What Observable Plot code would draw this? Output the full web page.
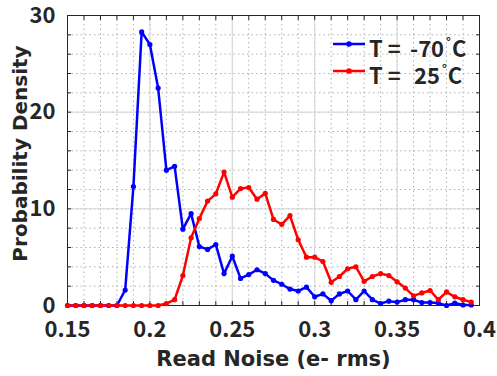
<!DOCTYPE html>
<html>
<head>
<meta charset="utf-8">
<script src="https://cdn.jsdelivr.net/npm/d3@7"></script>
<script src="https://cdn.jsdelivr.net/npm/@observablehq/plot@0.6"></script>
<style>
  html, body { margin: 0; padding: 0; background: #fff; }
  #wrap { position: relative; width: 497px; height: 376px; }
  #legend { position: absolute; left: 0; top: 0; pointer-events: none; }
</style>
</head>
<body>
<div id="wrap"></div>
<script>
const readNoise = [0.150,0.155,0.160,0.165,0.170,0.175,0.180,0.185,0.190,0.195,
  0.200,0.205,0.210,0.215,0.220,0.225,0.230,0.235,0.240,0.245,
  0.250,0.255,0.260,0.265,0.270,0.275,0.280,0.285,0.290,0.295,
  0.300,0.305,0.310,0.315,0.320,0.325,0.330,0.335,0.340,0.345,
  0.350,0.355,0.360,0.365,0.370,0.375,0.380,0.385,0.390,0.395];
const densityMinus70 = [0,0,0,0,0,0,0,1.6,12.3,28.3,
  27.0,22.5,14.0,14.4,7.9,9.5,6.1,5.8,6.3,3.3,
  5.1,2.8,3.2,3.7,3.3,2.6,2.2,1.7,1.5,1.9,
  0.9,1.2,0.5,1.2,1.5,0.6,1.5,0.6,0.2,0.45,
  0.35,0.6,0.6,0.3,0.3,0.25,0.0,0.25,0.05,0.05];
const density25 = [0,0,0,0,0,0,0,0,0,0,
  0,0,0.2,0.6,3.1,7.0,9.0,10.8,11.55,13.8,
  11.2,12.1,12.2,11.0,11.6,8.9,8.4,9.3,6.8,5.0,
  5.0,4.55,2.4,3.0,3.8,4.0,2.5,3.0,3.3,3.1,
  2.45,1.8,1.0,1.3,1.55,0.6,1.4,0.9,0.6,0.35];
const seriesNames = ["T = -70", "T =  25"];
const seriesColors = ["#0000ff", "#ff0000"];
const xTicks = [0.15, 0.2, 0.25, 0.3, 0.35, 0.4];
const xMinor = [0.15,0.16,0.17,0.18,0.19,0.2,0.21,0.22,0.23,0.24,0.25,0.26,0.27,0.28,0.29,0.3,0.31,0.32,0.33,0.34,0.35,0.36,0.37,0.38,0.39,0.4];
const yTicks = [0, 10, 20, 30];
const yMinor = [0,2,4,6,8,10,12,14,16,18,20,22,24,26,28,30];
const xLabel = "Read Noise (e- rms)";
const yLabel = "Probability Density";

const rows = [];
readNoise.forEach((x, i) => rows.push({x, y: densityMinus70[i], s: seriesNames[0]}));
readNoise.forEach((x, i) => rows.push({x, y: density25[i], s: seriesNames[1]}));

const textColor = "#262626";
const tickFont = '"Noto Sans CJK JP", "Noto Sans", sans-serif';
const labelFont = '"DejaVu Sans", sans-serif';
const blank = () => "";

const chart = Plot.plot({
  width: 497,
  height: 376,
  marginLeft: 67,
  marginRight: 18,
  marginTop: 15,
  marginBottom: 71,
  style: {fontFamily: tickFont, fontWeight: "bold", color: textColor, background: "#fff"},
  x: {domain: [0.15, 0.4]},
  y: {domain: [0, 30]},
  color: {domain: seriesNames, range: seriesColors},
  marks: [
    Plot.gridX(xMinor, {stroke: "#b0b0b0", strokeOpacity: 1, strokeDasharray: "1.5,3"}),
    Plot.gridY(yMinor, {stroke: "#b0b0b0", strokeOpacity: 1, strokeDasharray: "1.5,3"}),
    Plot.gridX(xTicks, {stroke: "#d6d6d6", strokeOpacity: 1, strokeWidth: 1}),
    Plot.gridY(yTicks, {stroke: "#d6d6d6", strokeOpacity: 1, strokeWidth: 1}),
    Plot.axisX(xMinor, {anchor: "bottom", tickSize: -4, tickFormat: blank, stroke: textColor, label: null}),
    Plot.axisX(xMinor, {anchor: "top", tickSize: -4, tickFormat: blank, stroke: textColor, label: null}),
    Plot.axisY(yMinor, {anchor: "left", tickSize: -4, tickFormat: blank, stroke: textColor, label: null}),
    Plot.axisY(yMinor, {anchor: "right", tickSize: -4, tickFormat: blank, stroke: textColor, label: null}),
    Plot.axisX(xTicks, {anchor: "bottom", tickSize: 0, tickPadding: 16, fontSize: 22, tickFormat: d => String(d), label: null, fill: textColor}),
    Plot.axisY(yTicks, {anchor: "left", tickSize: 0, tickPadding: 12, fontSize: 22, tickFormat: d => String(d), label: null, fill: textColor}),
    Plot.text([xLabel], {text: d => d, frameAnchor: "bottom", textAnchor: "middle", lineAnchor: "top", dy: 46, fontSize: 21, fontFamily: labelFont, fontWeight: "bold", fill: textColor}),
    Plot.text([yLabel], {text: d => d, frameAnchor: "left", textAnchor: "middle", rotate: -90, lineAnchor: "middle", dx: -47, dy: -7, fontSize: 20, fontFamily: labelFont, fontWeight: "bold", fill: textColor}),
    Plot.frame({stroke: textColor, strokeWidth: 1}),
    Plot.line(rows, {x: "x", y: "y", z: "s", stroke: "s", strokeWidth: 2.5}),
    Plot.dot(rows, {x: "x", y: "y", fill: "s", r: 2.6})
  ]
});

const wrap = document.getElementById("wrap");
wrap.appendChild(chart);

// legend overlay (top-right, inside the frame)
const ns = "http://www.w3.org/2000/svg";
const leg = document.createElementNS(ns, "svg");
leg.setAttribute("id", "legend");
leg.setAttribute("width", 497);
leg.setAttribute("height", 376);
const legLineY = [44, 71];
const legNums = ["-70", "25"];
seriesNames.forEach((name, i) => {
  const y = legLineY[i];
  const g = document.createElementNS(ns, "g");
  g.innerHTML = `<line x1="333" x2="365" y1="${y}" y2="${y}" stroke="${seriesColors[i]}" stroke-width="2.5"/>` +
    `<circle cx="349" cy="${y}" r="2.8" fill="${seriesColors[i]}"/>` +
    `<text x="369" y="${y + 13}" font-family='${tickFont}' font-weight="bold" font-size="22" fill="${textColor}">T = ` +
    `<tspan x="${i === 0 ? 410 : 414}">${legNums[i]}</tspan><tspan dx="2" dy="-11" font-size="12">°</tspan><tspan dy="11" dx="1">C</tspan></text>`;
  leg.appendChild(g);
});
wrap.appendChild(leg);
</script>
</body>
</html>
